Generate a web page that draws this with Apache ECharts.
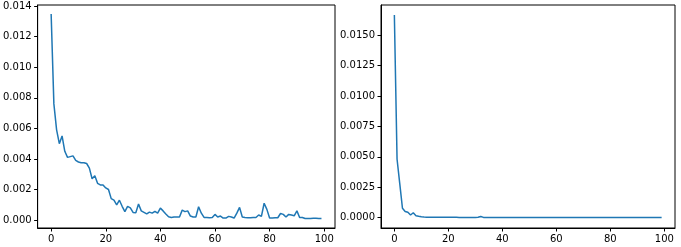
<!DOCTYPE html>
<html><head><meta charset="utf-8">
<script src="https://cdn.jsdelivr.net/npm/echarts@6/dist/echarts.min.js"></script>
<style>html,body{margin:0;padding:0;background:#fff}#c{width:681px;height:247px}</style>
</head><body><div id="c"></div>
<script>
const lossLeft = [0.01348,0.0076,0.0059,0.0050,0.0055,0.0045,0.0041,0.00415,0.0042,0.0039,
0.0038,0.00375,0.00375,0.0037,0.0034,0.0027,0.0029,0.0024,0.0023,0.0023,
0.0021,0.0020,0.0014,0.0013,0.0010,0.0013,0.0009,0.00055,0.0009,0.0008,
0.0005,0.00048,0.00105,0.0006,0.0005,0.0004,0.00052,0.00045,0.00057,0.00045,
0.00078,0.0006,0.0004,0.00022,0.00017,0.0002,0.0002,0.0002,0.00065,0.00055,
0.0006,0.00026,0.0002,0.0002,0.00087,0.00045,0.00017,0.00017,0.00015,0.00017,
0.00037,0.0002,0.00026,0.00013,0.00013,0.00024,0.0002,0.00013,0.00045,0.00083,
0.0002,0.00017,0.00015,0.00015,0.00017,0.00017,0.00033,0.00024,0.0011,0.0007,
0.00013,0.00013,0.00015,0.00015,0.00043,0.00037,0.0002,0.00037,0.00033,0.00028,
0.0006,0.00017,0.00017,0.0001,0.0001,0.0001,0.00011,0.00011,0.0001,0.0001];
const lossRight = [0.01665,0.0048,0.0028,0.00077,0.0005,0.00044,0.00022,0.0004,0.00016,0.00011,
0.00007,0.00005,0.00004,0.00004,0.00003,0.00003,0.00003,0.00003,0.00003,0.00003,
0.00003,0.00003,0.00003,0.00003,0.00002,0.00002,0.00002,0.00002,0.00002,0.00002,
0.00002,0.00004,0.0001,0.00002,0.00001,0.00001,0.00001,0.00001,0.00001,0.00001,
0.00001,0.00001,0.00001,0.00001,0.00001,0.00001,0.00001,0.00001,0.00001,0.00001,
0.00001,0.00001,0.00001,0.00001,0.00001,0.00001,0.00001,0.00001,0.00001,0.00001,
0.00001,0.00001,0.00001,0.00001,0.00001,0.00001,0.00001,0.00001,0.00001,0.00001,
0.00001,0.00001,0.00001,0.00001,0.00001,0.00001,0.00001,0.00001,0.00001,0.00001,
0.00001,0.00001,0.00001,0.00001,0.00001,0.00001,0.00001,0.00001,0.00001,0.00001,
0.00001,0.00001,0.00001,0.00001,0.00001,0.00001,0.00001,0.00001,0.00001,0.00001];
const xTicks = [0,20,40,60,80,100];
const yTicksLeft = [0,0.002,0.004,0.006,0.008,0.010,0.012,0.014];
const yTicksRight = [0,0.0025,0.005,0.0075,0.01,0.0125,0.015];

const font = {fontFamily:'DejaVu Sans', fontSize:10, color:'#000'};
const axLine = {show:true, onZero:false, lineStyle:{color:'#000', width:1}};
const tick = (vals)=>({show:true, length:3.5, inside:false, lineStyle:{color:'#000'}, customValues:vals});
function xAx(gi){return {type:'value', gridIndex:gi, min:-4.95, max:103.95, splitLine:{show:false},
  axisLine:axLine, axisTick:tick(xTicks), axisLabel:Object.assign({customValues:xTicks, margin:6}, font)};}
function yAx(gi,min,max,vals,dec){return {type:'value', gridIndex:gi, min:min, max:max, splitLine:{show:false},
  axisLine:axLine, axisTick:tick(vals), axisLabel:Object.assign({customValues:vals, margin:6, formatter:v=>v.toFixed(dec)}, font)};}
const chart = echarts.init(document.getElementById('c'), null, {renderer:'canvas'});
chart.setOption({
  animation:false,
  grid:[
    {left:35, top:5, width:300, height:223, show:true, borderColor:'#000', borderWidth:1},
    {left:381, top:5, width:294, height:223, show:true, borderColor:'#000', borderWidth:1}
  ],
  xAxis:[xAx(0), xAx(1)],
  yAxis:[yAx(0,-0.00052,0.01407,yTicksLeft,3), yAx(1,-0.00085,0.01747,yTicksRight,4)],
  series:[
    {type:'line', xAxisIndex:0, yAxisIndex:0, showSymbol:false, data:lossLeft.map((v,i)=>[i,v]), lineStyle:{color:'#1f77b4', width:1.5}},
    {type:'line', xAxisIndex:1, yAxisIndex:1, showSymbol:false, data:lossRight.map((v,i)=>[i,v]), lineStyle:{color:'#1f77b4', width:1.5}}
  ]
});
</script></body></html>
